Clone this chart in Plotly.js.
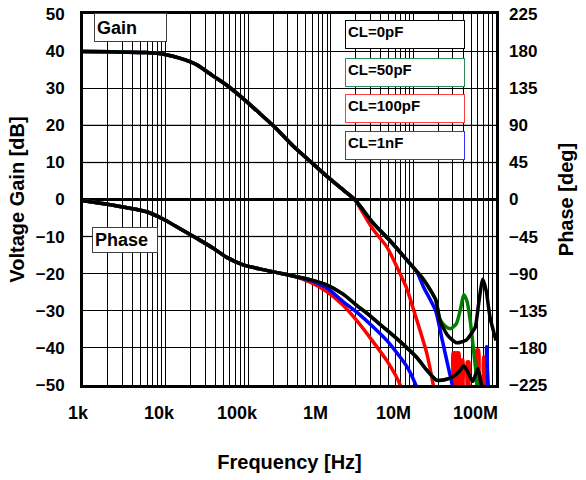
<!DOCTYPE html>
<html>
<head>
<meta charset="utf-8">
<script src="https://cdn.plot.ly/plotly-3.0.1.min.js"></script>
<style>html,body{margin:0;padding:0;background:#fff;}#chart{width:586px;height:480px;}</style>
</head>
<body>
<div id="chart"></div>
<script>
// ---------- data ----------
// Gain (dB), common low-frequency part (all four loads overlap)
const freqGainLow = [1e3, 2.3e3, 5.9e3, 9.8e3, 1.48e4, 2.4e4, 3.7e4, 5.5e4, 8.7e4, 1.38e5, 2.24e5, 3.47e5, 5.62e5, 8.91e5, 1.41e6, 1.95e6];
const gainLow     = [39.9, 39.8, 39.6, 39.1, 38.1, 36.3, 33.4, 30.8, 27.2, 23.2, 18.9, 14.5, 10.3, 6.3, 2.6, 0];

// Gain tails
const freqGain0  = [3.24e6, 5.25e6, 8.32e6, 1.32e7, 1.86e7, 2.09e7, 2.57e7, 3.31e7, 4.37e7, 5.25e7, 5.62e7, 6.17e7, 6.92e7, 7.59e7, 8.51e7, 1.0e8];
const gain0      = [-6.3, -11.2, -16.3, -21.5, -27, -32.5, -36.5, -38.6, -37.9, -35.5, -34.4, -28, -21.5, -24.5, -32, -38];
const freqGain50 = [3.24e6, 5.25e6, 8.32e6, 1.32e7, 1.86e7, 2.09e7, 2.45e7, 2.82e7, 3.31e7, 3.72e7, 4.07e7, 4.47e7, 4.90e7, 5.37e7, 5.89e7, 6.31e7];
const gain50     = [-6.3, -11.2, -16.3, -21.5, -27, -32.2, -34.2, -34.8, -33.5, -29.5, -25.7, -27.5, -33, -41, -49, -58];
const freqGain100 = [2.09e6, 3.24e6, 4.68e6, 5.25e6, 7.41e6, 8.32e6, 1.10e7, 1.45e7, 1.74e7, 2.0e7,
                     3.01e7, 3.02e7, 3.27e7, 3.29e7, 3.30e7, 3.56e7, 3.58e7,
                     3.77e7, 3.78e7, 3.98e7, 4.00e7,
                     4.46e7, 4.47e7, 4.71e7, 4.73e7,
                     5.75e7, 5.82e7, 6.17e7, 6.24e7,
                     7.00e7, 7.08e7, 7.41e7, 7.50e7];
const gain100     = [-1, -8, -12.5, -14.5, -21.5, -24, -32.5, -41.4, -50, -58,
                     -60, -41.4, -41.4, -60, -41.4, -41.4, -60,
                     -60, -43.3, -43.3, -60,
                     -60, -43.8, -43.8, -60,
                     -60, -40.6, -40.6, -60,
                     -60, -42.5, -42.5, -60];
const freqGain1n = [3.24e6, 5.25e6, 8.32e6, 1.1e7, 1.32e7, 1.86e7, 2.24e7, 2.63e7, 2.95e7, 3.31e7, 7.59e7, 7.67e7, 7.76e7, 7.85e7];
const gain1n     = [-6.3, -11.2, -16.3, -19.5, -23.5, -30, -38, -45, -50, -60, -60, -39.7, -39.7, -60];

// Phase (deg), common low-frequency part
const freqPhaseLow = [1e3, 2.3e3, 5.9e3, 9.8e3, 1.48e4, 2.4e4, 3.7e4, 5.5e4, 8.7e4, 1.38e5, 2.24e5, 3.47e5];
const phaseLow     = [-1.4, -6.8, -14.9, -24.8, -35.1, -47.3, -58.5, -70.2, -79.2, -84.2, -88.7, -92.7];

// Phase tails
const freqPhase0  = [5.62e5, 8.91e5, 1.41e6, 2.0e6, 2.75e6, 4.27e6, 6.92e6, 1.10e7, 1.45e7, 1.91e7, 2.45e7, 3.02e7, 3.55e7, 4.07e7, 4.57e7, 5.25e7, 6.03e7, 6.61e7, 7.24e7];
const phase0      = [-97.2, -103.5, -114.8, -127.4, -138.2, -154.4, -172.4, -191.7, -207, -219.2, -218.3, -215.1, -209.3, -202, -209.3, -220.5, -205.2, -222.8, -238.5];
const freqPhase50 = [5.62e5, 8.91e5, 1.41e6, 2.0e6, 2.75e6, 4.27e6, 6.92e6, 1.10e7, 1.45e7, 1.91e7, 2.45e7, 3.02e7, 3.55e7, 4.07e7, 4.57e7, 5.25e7, 6.03e7, 6.61e7, 7.24e7];
const phase50     = [-97.2, -103.5, -114.8, -127.4, -138.2, -154.4, -172.4, -191.7, -207, -219.2, -218.3, -215.1, -209.3, -202, -209.3, -220.5, -205.2, -222.8, -238.5];
const freqPhase100 = [5.62e5, 8.91e5, 1.41e6, 2.09e6, 3.24e6, 4.79e6, 6.92e6, 7.94e6];
const phase100     = [-100.4, -111.6, -128.3, -147.6, -172.4, -195.8, -225, -247.5];
const freqPhase1n  = [5.62e5, 8.91e5, 1.41e6, 2.09e6, 3.24e6, 5.0e6, 8.32e6, 1.07e7, 1.26e7];
const phase1n      = [-98.1, -107.1, -123.8, -137.3, -154.4, -173.3, -202.5, -225, -247.5];

const seriesNames = ['CL=0pF', 'CL=50pF', 'CL=100pF', 'CL=1nF'];
const xTickVals  = [1e3, 1e4, 1e5, 1e6, 1e7, 1e8];
const xTickText  = ['1k', '10k', '100k', '1M', '10M', '100M'];
const gainTicks  = [50, 40, 30, 20, 10, 0, -10, -20, -30, -40, -50];
const phaseTicks = [225, 180, 135, 90, 45, 0, -45, -90, -135, -180, -225];

// ---------- styling ----------
const FONT = 'Liberation Sans, Arial, sans-serif';
const lineColors   = ['#000000', '#008000', '#ff0000', '#0000ff'];
const boxColors    = ['#000000', '#2e8b57', '#ff4040', '#3030ff'];
const xLabelShift  = [-5, -6, -11, -15, -20, -21];
const LW = 3.5;
const TICKFONT  = {family: FONT, size: 17, weight: 700, color: '#000'};
const TITLEFONT = {family: FONT, size: 20, weight: 700, color: '#000'};

const gainF  = [freqGain0, freqGain50, freqGain100, freqGain1n];
const gainV  = [gain0, gain50, gain100, gain1n];
const phaseF = [freqPhase0, freqPhase50, freqPhase100, freqPhase1n];
const phaseV = [phase0, phase50, phase100, phase1n];

const drawOrder = [2, 3, 1, 0];
const traces = [];
drawOrder.forEach(i => {
  traces.push({
    x: freqGainLow.concat(gainF[i]), y: gainLow.concat(gainV[i]),
    type: 'scatter', mode: 'lines', name: seriesNames[i] + ' gain',
    line: {color: lineColors[i], width: LW, shape: 'spline', smoothing: 0.6},
    xaxis: 'x', yaxis: 'y', hoverinfo: 'skip'
  });
});
drawOrder.forEach(i => {
  traces.push({
    x: freqPhaseLow.concat(phaseF[i]), y: phaseLow.concat(phaseV[i]),
    type: 'scatter', mode: 'lines', name: seriesNames[i] + ' phase',
    line: {color: lineColors[i], width: LW, shape: 'spline', smoothing: 0.6},
    xaxis: 'x', yaxis: 'y2', hoverinfo: 'skip'
  });
});

const annotations = [];
xTickText.forEach((t, k) => {
  annotations.push({
    text: t, xref: 'x', yref: 'paper', x: Math.log10(xTickVals[k]), y: 0,
    xshift: xLabelShift[k], yshift: -28, xanchor: 'center', yanchor: 'middle',
    showarrow: false, font: {family: FONT, size: 18, weight: 700, color: '#000'}
  });
});
// "Gain" / "Phase" labels
annotations.push({text: 'Gain', xref: 'paper', yref: 'paper', x: 0.0266, y: 1.0027,
  xanchor: 'left', yanchor: 'top', showarrow: false, align: 'left', valign: 'middle',
  width: 67, height: 23, borderpad: 2, borderwidth: 1, bordercolor: '#404040', bgcolor: '#fff',
  font: {family: FONT, size: 18, weight: 700, color: '#000'}});
annotations.push({text: 'Phase', xref: 'paper', yref: 'paper', x: 0.0218, y: 0.4259,
  xanchor: 'left', yanchor: 'top', showarrow: false, align: 'left', valign: 'middle',
  width: 60, height: 20, borderpad: 2, borderwidth: 1, bordercolor: '#404040', bgcolor: '#fff',
  font: {family: FONT, size: 18, weight: 700, color: '#000'}});
// legend boxes
const legendTop = [0.9838, 0.8814, 0.7844, 0.6846];
seriesNames.forEach((n, i) => {
  annotations.push({text: n, xref: 'paper', yref: 'paper', x: 0.6344, y: legendTop[i],
    xanchor: 'left', yanchor: 'top', showarrow: false, align: 'left', valign: 'top',
    width: 114, height: 23, borderpad: 2, borderwidth: 1, bordercolor: boxColors[i], bgcolor: '#fff',
    font: {family: FONT, size: 15, weight: 700, color: '#000'}});
});

const shapes = [20, 10, -10].map(v => ({
  type: 'line', xref: 'paper', yref: 'y', x0: 0, x1: 1, y0: v, y1: v,
  layer: 'between', line: {color: '#808080', width: 1.5}
}));
// blue decade grid lines
[1e4, 1e5, 1e6, 1e7].forEach(v => shapes.push({
  type: 'line', xref: 'x', yref: 'paper', x0: Math.log10(v), x1: Math.log10(v), y0: 0, y1: 1,
  layer: 'between', line: {color: '#0000c0', width: 1.2}
}));

const layout = {
  width: 586, height: 480,
  margin: {l: 83, r: 90, t: 14, b: 95},
  paper_bgcolor: '#fff', plot_bgcolor: '#fff',
  showlegend: false,
  xaxis: {
    type: 'log', range: [3, 8], tickvals: xTickVals, showticklabels: false,
    showgrid: false,
    minor: {dtick: 'D1', showgrid: true, gridcolor: '#000', gridwidth: 1, ticks: ''},
    showline: true, linecolor: '#000', linewidth: 3, mirror: true, ticks: '',
    zeroline: false,
    title: {text: 'Frequency [Hz]', standoff: 68, font: TITLEFONT}
  },
  yaxis: {
    range: [-50, 50], tickvals: gainTicks, ticks: '', ticklabelstandoff: 12,
    showgrid: true, gridcolor: '#000', gridwidth: 1,
    zeroline: true, zerolinecolor: '#000', zerolinewidth: 3,
    showline: true, linecolor: '#000', linewidth: 3, mirror: true,
    tickfont: TICKFONT,
    title: {text: 'Voltage Gain [dB]', standoff: 6, font: TITLEFONT}
  },
  yaxis2: {
    range: [-225, 225], tickvals: phaseTicks, overlaying: 'y', side: 'right', ticks: '',
    ticklabelstandoff: 12, showgrid: false, zeroline: false, showline: false,
    tickfont: TICKFONT,
    title: {text: 'Phase [deg]', standoff: 12, font: TITLEFONT}
  },
  shapes: shapes,
  annotations: annotations
};

Plotly.newPlot('chart', traces, layout, {displayModeBar: false, staticPlot: true});
</script>
</body>
</html>
